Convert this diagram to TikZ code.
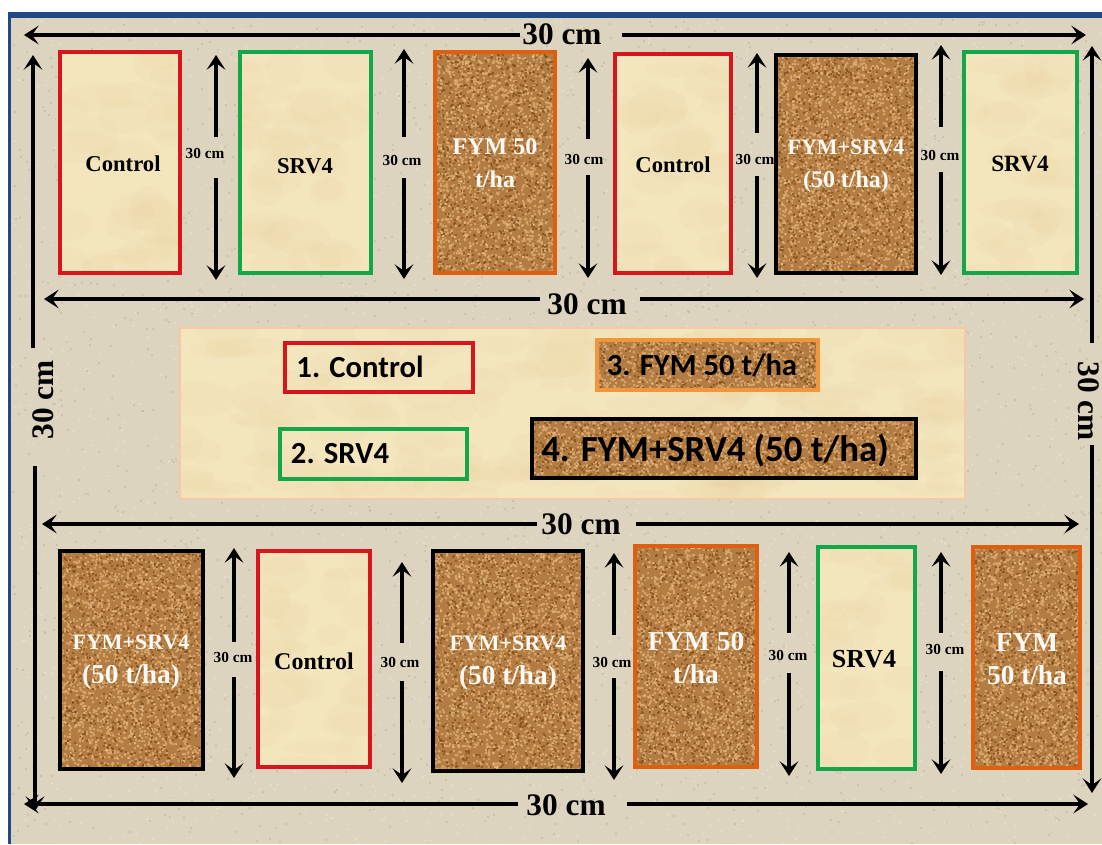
\documentclass[tikz,border=0pt]{standalone}
\usepackage{fontspec}
\setmainfont{Liberation Serif}
\newfontfamily\legfont{Carlito}
\usetikzlibrary{arrows.meta}
\definecolor{frameblue}{HTML}{1F4A86}
\definecolor{sandbg}{HTML}{DDD4C0}
\definecolor{sandlt}{HTML}{E9E2D1}
\definecolor{sanddk}{HTML}{BDB29A}
\definecolor{palebase}{HTML}{F3E5BC}
\definecolor{paleblot}{HTML}{DDB582}
\definecolor{fymbase}{HTML}{B27C42}
\definecolor{fymlt}{HTML}{D8A468}
\definecolor{fymxl}{HTML}{EAC898}
\definecolor{fymdk}{HTML}{84501F}
\definecolor{redline}{HTML}{D8141C}
\definecolor{greenline}{HTML}{12A84A}
\definecolor{orangeline}{HTML}{DF5F10}
\definecolor{amberline}{HTML}{F0963C}
\definecolor{panelline}{HTML}{F5C9A4}
\newcommand{\fsz}[1]{\fontsize{#1}{25}\selectfont}
\newcount\dotn
% round dots written straight to the page: x1 y1 x2 y2 count width(px) colour
\makeatletter
\newcommand{\grains}[7]{\begin{pgfscope}\pgfsetstrokecolor{#7}%
  \pgfsys@invoke{0.7472 0 0 -0.7472 0 0 cm #6 w 1 J}%
  \dotn=#5\relax
  \loop
    \pgfmathrandominteger\rx{#1}{#3}\pgfmathrandominteger\ry{#2}{#4}%
    \pgfsys@invoke{\rx\space\ry\space m \rx\space\ry\space l S}%
    \advance\dotn by -1
  \ifnum\dotn>0 \repeat
  \end{pgfscope}}
\makeatother
\tikzset{
  x=0.75pt,y=-0.75pt,
  plotbox/.style={draw,rectangle,line width=3pt,inner sep=0pt},
  redbox/.style={plotbox,draw=redline},
  greenbox/.style={plotbox,draw=greenline},
  orangebox/.style={plotbox,draw=orangeline},
  blackbox/.style={plotbox,draw=black},
  amberbox/.style={plotbox,draw=amberline,line width=3.6pt},
  panelbox/.style={plotbox,draw=panelline,line width=2.2pt},
  dimline/.style={line width=2.7pt,-{Stealth[length=11pt,width=14pt,inset=5pt]}},
  darklabel/.style={font=\bfseries\fsz{17},text=black,inner sep=0pt},
  whitelabel/.style={font=\bfseries\fsz{18},text=white!92!fymlt,align=center,inner sep=0pt},
  smalldim/.style={font=\bfseries\fsz{11.5},text=black,inner sep=0pt},
  bigdim/.style={font=\bfseries\fsz{23.5},text=black,inner sep=0pt},
  legend/.style={font=\legfont\bfseries\fsz{23},text=black,inner sep=0pt},
}
% box textures
\newcommand{\fymtex}[4]{\fill[fymbase] (#1,#2) rectangle (#3,#4);
  \pgfmathtruncatemacro{\na}{(#3-#1)/22*(#4-#2)}
  \pgfmathtruncatemacro{\nb}{(#3-#1)/30*(#4-#2)}
  \pgfmathtruncatemacro{\nc}{(#3-#1)/50*(#4-#2)}
  \grains{#1}{#2}{#3}{#4}{\na}{3}{fymlt}
  \grains{#1}{#2}{#3}{#4}{\nb}{2.2}{fymdk}
  \grains{#1}{#2}{#3}{#4}{\nc}{1.6}{fymxl}}
\newcommand{\paletex}[4]{\fill[palebase] (#1,#2) rectangle (#3,#4);
  \begin{scope}\clip (#1,#2) rectangle (#3,#4);
  \pgfmathtruncatemacro{\nn}{(#3-#1)/800*(#4-#2)}
  \foreach \i in {1,...,\nn}{\fill[paleblot,opacity=.045]
    ({#1+rnd*(#3-#1)},{#2+rnd*(#4-#2)}) circle[x radius={12+rnd*24},y radius={6+rnd*14}];}
  \end{scope}}
% plot: name x1 y1 x2 y2 style
\newcommand{\plotframe}[6]{\node[#6,minimum width={(#4-#2-4)*0.75pt},minimum height={(#5-#3-4)*0.75pt}]
  (#1) at ({(#2+#4)/2},{(#3+#5)/2}) {};}
% vertical double arrow with a gap: name x toptip topend lowstart lowtip labx laby
\newcommand{\vdim}[8]{
  \coordinate (#1a) at (#2,#3); \coordinate (#1b) at (#2,#4);
  \coordinate (#1c) at (#2,#5); \coordinate (#1d) at (#2,#6);
  \draw[dimline] (#1b) -- (#1a); \draw[dimline] (#1c) -- (#1d);
  \node[smalldim] (#1t) at (#7,#8) {30 cm};}
\begin{document}
\begin{tikzpicture}
\useasboundingbox (0,0) rectangle (1102,844);
\pgfmathsetseed{4711}
\fill[white] (0,0) rectangle (1102,844);
\fill[frameblue] (8,12) rectangle (1102,844);
\fill[sandbg] (11,18) rectangle (1102,844);
\grains{13}{20}{1101}{843}{2200}{1.6}{sanddk}
\grains{13}{20}{1101}{843}{2600}{2}{sandlt}

% textures
\paletex{180}{328}{965}{499}
\paletex{60}{52}{180}{273}
\paletex{240}{52}{371}{273}
\paletex{615}{54}{731}{273}
\paletex{964}{52}{1077}{273}
\paletex{258}{551}{370}{767}
\paletex{818}{547}{915}{769}
\paletex{285}{343}{473}{392}
\paletex{280}{429}{467}{479}
\fymtex{435}{52}{555}{273}
\fymtex{776}{55}{916}{273}
\fymtex{60}{551}{203}{769}
\fymtex{433}{551}{583}{771}
\fymtex{635}{546}{757}{767}
\fymtex{973}{547}{1080}{768}
\fymtex{597}{340}{818}{390}
\fymtex{532}{419}{916}{478}

% frames
\plotframe{panel}{178}{326}{967}{501}{panelbox}
\plotframe{t1}{58}{50}{182}{275}{redbox}
\plotframe{t2}{238}{50}{373}{275}{greenbox}
\plotframe{t3}{433}{50}{557}{275}{orangebox}
\plotframe{t4}{613}{52}{733}{275}{redbox}
\plotframe{t5}{774}{53}{918}{275}{blackbox}
\plotframe{t6}{962}{50}{1079}{275}{greenbox}
\plotframe{b1}{58}{549}{205}{771}{blackbox}
\plotframe{b2}{256}{549}{372}{769}{redbox}
\plotframe{b3}{431}{549}{585}{773}{blackbox}
\plotframe{b4}{633}{544}{759}{769}{orangebox}
\plotframe{b5}{816}{545}{917}{771}{greenbox}
\plotframe{b6}{971}{545}{1082}{770}{orangebox}
\plotframe{k1}{283}{341}{475}{394}{redbox}
\plotframe{k2}{278}{427}{469}{481}{greenbox}
\plotframe{k3}{595}{338}{820}{392}{amberbox}
\plotframe{k4}{530}{417}{918}{480}{blackbox}

% box labels
\node[darklabel] (t1t) at (123,164) {Control};
\node[darklabel] (t2t) at (305,166) {SRV4};
\node[whitelabel] (t3t) at (495,163) {FYM 50\\t/ha};
\node[darklabel] (t4t) at (673,165) {Control};
\node[whitelabel] (t5t) at (846,166) {{\fsz{16.5}FYM+SRV4}\\(50 t/ha)};
\node[darklabel,font=\bfseries\fsz{17.5}] (t6t) at (1020,164) {SRV4};
\node[whitelabel] (b1t) at (131,662) {{\fsz{16.5}FYM+SRV4}\\{\fsz{20.5}(50 t/ha)}};
\node[darklabel,font=\bfseries\fsz{18}] (b2t) at (314,661) {Control};
\node[whitelabel] (b3t) at (508,663) {{\fsz{16.5}FYM+SRV4}\\{\fsz{20.5}(50 t/ha)}};
\node[whitelabel,font=\bfseries\fsz{20.5}] (b4t) at (696,658) {FYM 50\\t/ha};
\node[darklabel,font=\bfseries\fsz{19.5}] (b5t) at (864,659) {SRV4};
\node[whitelabel,font=\bfseries\fsz{20.5}] (b6t) at (1027,659) {FYM\\50 t/ha};

% legend
\node[legend] (k1t) at (360,367) {1. Control};
\node[legend] (k2t) at (340,454) {2. SRV4};
\node[legend] (k3t) at (702,365) {3. FYM 50 t/ha};
\node[legend,font=\legfont\bfseries\fsz{27.6}] (k4t) at (715,451) {4. FYM+SRV4 (50 t/ha)};

% small dimensions
\vdim{a1}{216}{55}{137}{178}{280}{205}{153}
\vdim{a2}{404}{49}{137}{178}{279}{402}{160}
\vdim{a3}{588}{58}{139}{175}{278}{584}{159}
\vdim{a4}{757}{53}{133}{176}{278}{755}{159}
\vdim{a5}{941}{45}{127}{172}{275}{940}{155}
\vdim{c1}{234}{548}{642}{677}{778}{233}{657}
\vdim{c2}{402}{562}{643}{681}{783}{400}{662}
\vdim{c3}{614}{553}{635}{678}{780}{612}{662}
\vdim{c4}{789}{552}{633}{673}{776}{788}{655}
\vdim{c5}{941}{552}{633}{671}{774}{945}{649}

% long dimensions
\node[bigdim] (h1t) at (562,34) {30 cm};
\coordinate (h1l) at (24,35); \coordinate (h1a) at (520,35);
\coordinate (h1b) at (622,35); \coordinate (h1r) at (1086,35);
\draw[dimline] (h1a) -- (h1l); \draw[dimline] (h1b) -- (h1r);

\node[bigdim] (h2t) at (587,304) {30 cm};
\coordinate (h2l) at (44,299); \coordinate (h2a) at (540,299);
\coordinate (h2b) at (640,299); \coordinate (h2r) at (1084,299);
\draw[dimline] (h2a) -- (h2l); \draw[dimline] (h2b) -- (h2r);

\node[bigdim] (h3t) at (581,524) {30 cm};
\coordinate (h3l) at (42,524); \coordinate (h3a) at (537,524);
\coordinate (h3b) at (636,524); \coordinate (h3r) at (1079,524);
\draw[dimline] (h3a) -- (h3l); \draw[dimline] (h3b) -- (h3r);

\node[bigdim] (h4t) at (566,805) {30 cm};
\coordinate (h4l) at (24,804); \coordinate (h4a) at (518,804);
\coordinate (h4b) at (627,804); \coordinate (h4r) at (1088,804);
\draw[dimline] (h4a) -- (h4l); \draw[dimline] (h4b) -- (h4r);

\node[bigdim,rotate=90] (v1t) at (43,400) {30 cm};
\coordinate (v1u) at (33,55); \coordinate (v1a) at (33,348);
\coordinate (v1b) at (35,466); \coordinate (v1d) at (35,811);
\draw[dimline] (v1a) -- (v1u); \draw[dimline] (v1b) -- (v1d);

\node[bigdim,rotate=-90] (v2t) at (1089,401) {30 cm};
\coordinate (v2u) at (1092,46); \coordinate (v2a) at (1092,343);
\coordinate (v2b) at (1092,445); \coordinate (v2d) at (1092,793);
\draw[dimline] (v2a) -- (v2u); \draw[dimline] (v2b) -- (v2d);
\end{tikzpicture}
\end{document}
